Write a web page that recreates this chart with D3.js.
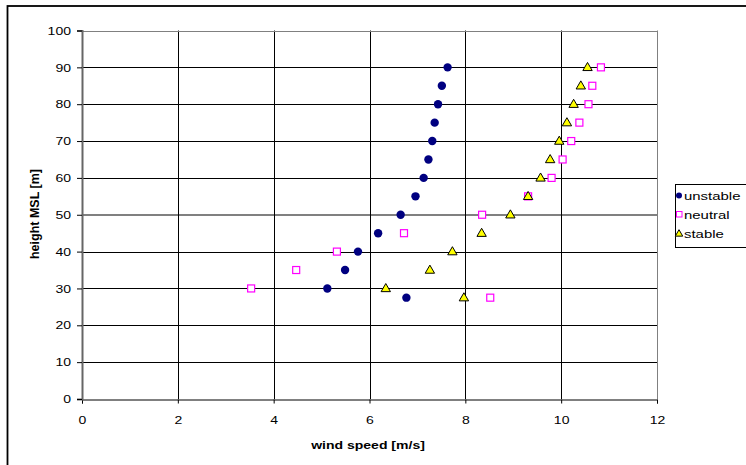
<!DOCTYPE html>
<html><head><meta charset="utf-8">
<script src="https://cdn.jsdelivr.net/npm/d3@7/dist/d3.min.js"></script>
<style>body{margin:0;background:#fff}svg{display:block}text{font-family:"Liberation Sans",Arial,sans-serif}</style>
</head><body>
<svg id="c" width="746" height="465"></svg>
<script>
const heights = [90,85,80,75,70,65,60,55,50,45,40,35,30,27.5];
const unstable = [7.63,7.51,7.43,7.36,7.31,7.23,7.13,6.96,6.65,6.18,5.76,5.49,5.12,6.77];
const neutral  = [10.83,10.65,10.57,10.38,10.21,10.03,9.80,9.31,8.35,6.72,5.32,4.47,3.53,8.52];
const stable   = [10.55,10.41,10.26,10.12,9.96,9.77,9.57,9.31,8.94,8.34,7.73,7.26,6.34,7.97];
const xTicks = [0,2,4,6,8,10,12];
const yTicks = [0,10,20,30,40,50,60,70,80,90,100];
const seriesNames = ["unstable","neutral","stable"];

const FS = 11.5, SX = 1.22;
const svg = d3.select("#c");
// outer frame
svg.append("rect").attr("x",7.5).attr("y",6).attr("width",760).attr("height",480)
  .attr("fill","none").attr("stroke","#000").attr("stroke-width",1.8);

const x = d3.scaleLinear().domain([0,12]).range([82,657]);
const y = d3.scaleLinear().domain([0,100]).range([399,30.5]);

// gridlines
const g = svg.append("g");
g.selectAll(".hg").data(yTicks.filter(d=>d>0&&d<100)).enter().append("line")
  .attr("x1",x(0)).attr("x2",x(12)).attr("y1",d=>d===50?Math.round(y(d)):Math.round(y(d))+0.5).attr("y2",d=>d===50?Math.round(y(d)):Math.round(y(d))+0.5)
  .attr("stroke",d=>d===50?"#808080":"#000").attr("stroke-width",d=>d===50?2:1);
g.selectAll(".vg").data(xTicks.filter(d=>d>0&&d<12)).enter().append("line")
  .attr("y1",y(0)).attr("y2",y(100)).attr("x1",d=>Math.round(x(d))+0.5).attr("x2",d=>Math.round(x(d))+0.5)
  .attr("stroke","#000").attr("stroke-width",1);
// plot border top/right gray
svg.append("line").attr("x1",x(0)).attr("x2",x(12)+0.5).attr("y1",Math.round(y(100))+0.5).attr("y2",Math.round(y(100))+0.5).attr("stroke","#808080");
svg.append("line").attr("x1",Math.round(x(12))+0.5).attr("x2",Math.round(x(12))+0.5).attr("y1",y(100)).attr("y2",y(0)).attr("stroke","#808080");

// axes
const xAxis = d3.axisBottom(x).tickValues(xTicks).tickSize(4).tickPadding(12).tickFormat(d3.format("d"));
const yAxis = d3.axisLeft(y).tickValues(yTicks).tickSize(5).tickPadding(6).tickFormat(d3.format("d"));
const xa = svg.append("g").attr("transform",`translate(0,${Math.round(y(0))+0.5})`).call(xAxis);
const ya = svg.append("g").attr("transform",`translate(${Math.round(x(0))},0)`).call(yAxis);
xa.select(".domain").attr("stroke","#000");
ya.select(".domain").attr("stroke","#666").attr("stroke-width",2);
[xa,ya].forEach(a=>{a.selectAll("text").attr("font-size",FS).attr("fill","#000").style("font-family","'Liberation Sans',Arial,sans-serif");
  a.selectAll(".tick line").attr("stroke","#000");});
xa.selectAll(".tick text").attr("transform",`scale(${SX},1)`).attr("x",0);
ya.selectAll(".tick text").attr("transform",`scale(${SX},1)`).attr("x",-11/SX);

function stext(px,py,str,opts){
  const t = svg.append("text").attr("transform",`translate(${px},${py}) scale(${opts.sx||SX},1)`)
    .attr("font-size",opts.fs||FS).attr("text-anchor",opts.anchor||"start").text(str);
  if(opts.bold) t.attr("font-weight","bold");
  return t;
}
// titles
stext(368,449,"wind speed [m/s]",{anchor:"middle",bold:true});
svg.append("text").attr("transform",`translate(39,214) rotate(-90)`).attr("text-anchor","middle")
  .attr("font-size",12.5).attr("font-weight","bold").text("height MSL [m]");

// markers
const pts = (arr)=>arr.map((v,i)=>({x:v,h:heights[i]}));
svg.append("g").selectAll("circle").data(pts(unstable)).enter().append("circle")
  .attr("cx",d=>x(d.x)).attr("cy",d=>y(d.h)).attr("r",4.2).attr("fill","#000080");
svg.append("g").selectAll("rect").data(pts(neutral)).enter().append("rect")
  .attr("x",d=>x(d.x)-3.5).attr("y",d=>y(d.h)-3.5).attr("width",7).attr("height",7)
  .attr("fill","#fff").attr("stroke","#ff00ff").attr("stroke-width",1.2);
const tri = d3.symbol().type(d3.symbolTriangle).size(38);
svg.append("g").selectAll("path").data(pts(stable)).enter().append("path")
  .attr("d",tri).attr("transform",d=>`translate(${x(d.x)},${y(d.h)+0.5})`)
  .attr("fill","#ffff00").attr("stroke","#000").attr("stroke-width",1);

// legend
svg.append("rect").attr("x",675.5).attr("y",184.5).attr("width",80).attr("height",63)
  .attr("fill","#fff").attr("stroke","#000");
const ly = [195.5,214.5,233.5];
svg.append("circle").attr("cx",679).attr("cy",ly[0]).attr("r",3).attr("fill","#000080");
svg.append("rect").attr("x",676.5).attr("y",ly[1]-3).attr("width",5.5).attr("height",5.5).attr("fill","#fff").attr("stroke","#ff00ff");
svg.append("path").attr("d",d3.symbol().type(d3.symbolTriangle).size(24)).attr("transform",`translate(679,${ly[2]+0.5})`)
  .attr("fill","#ffff00").attr("stroke","#000");
seriesNames.forEach((n,i)=>stext(684,ly[i]+4,n,{sx:1.3}));
</script>
</body></html>
